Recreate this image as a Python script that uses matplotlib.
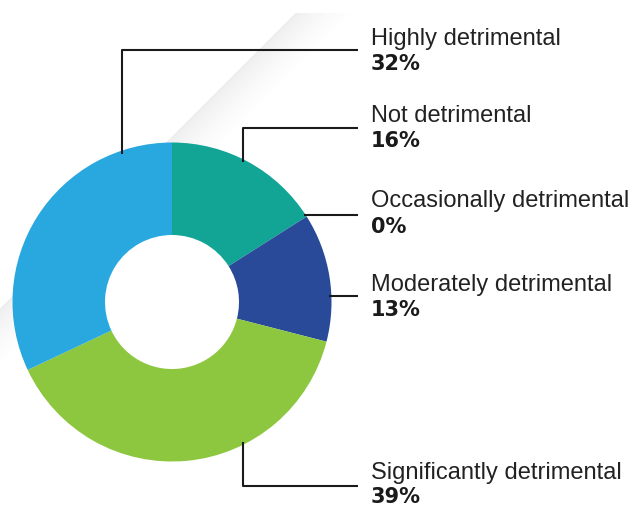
import numpy as np
import matplotlib.pyplot as plt

# data, clockwise from 12 o'clock
labels = ['Not detrimental', 'Occasionally detrimental', 'Moderately detrimental',
          'Significantly detrimental', 'Highly detrimental']
values = [16, 0, 13, 39, 32]
colors = ['#12A596', '#12A596', '#284A98', '#8DC63F', '#29A8E0']

W, H = 636, 509
fig = plt.figure(figsize=(6.36, 5.09), dpi=100)
ax = fig.add_axes([0, 0, 1, 1])

# faint diagonal sheen in the background
yy, xx = np.mgrid[0:H, 0:W]
d = (xx + yy - 307) / np.sqrt(2)
alpha = np.where((d > 0) & (d < 45), 0.12 * (1 - d / 45) ** 1.5, 0.0)
alpha[yy < 13] = 0
sheen = np.zeros((H, W, 4))
sheen[..., :3] = 0.45
sheen[..., 3] = alpha
ax.imshow(sheen, extent=(0, W, 0, H), origin='upper', zorder=0, interpolation='bilinear')

cx, cy, R = 172, H - 302, 159.5
ax.pie(values, colors=colors, startangle=90, counterclock=False,
       center=(cx, cy), radius=R, frame=True,
       wedgeprops=dict(width=R - 67, edgecolor='none', linewidth=0))
ax.set_xlim(0, W)
ax.set_ylim(0, H)
ax.set_aspect('equal')
ax.axis('off')

def on_circle_y(x, top=True):
    dy = np.sqrt(max(R ** 2 - (x - cx) ** 2, 0))
    return cy + dy if top else cy - dy

line_kw = dict(color='#1a1a1a', lw=1.5, zorder=3, solid_capstyle='butt')
xe = 358
# Highly detrimental: up from the left of the donut
ax.plot([122, 122, xe], [on_circle_y(122) - 3, H - 50, H - 50], **line_kw)
# Not detrimental
ax.plot([243, 243, xe], [on_circle_y(243) - 3, H - 128, H - 128], **line_kw)
# Occasionally detrimental: at teal / dark blue boundary
ang = np.deg2rad(90 - 360 * (values[0] + values[1]) / sum(values))
ax.plot([cx + R * np.cos(ang) - 3, xe], [H - 215, H - 215], **line_kw)
# Moderately detrimental
ax.plot([cx + np.sqrt(R ** 2 - 6 ** 2) - 2, xe], [H - 296, H - 296], **line_kw)
# Significantly detrimental
ax.plot([243, 243, xe], [on_circle_y(243, top=False) + 3, H - 486, H - 486], **line_kw)

# baselines of label / percentage
base_y = {'Highly detrimental': (45, 70), 'Not detrimental': (122, 147),
          'Occasionally detrimental': (207, 233), 'Moderately detrimental': (291, 316),
          'Significantly detrimental': (479, 503)}
for lab, v in zip(labels, values):
    yl, yp = base_y[lab]
    ax.text(371, H - yl, lab, fontsize=17, family='Liberation Sans', color='#222222',
            va='baseline', ha='left')
    ax.text(371, H - yp, f'{v}%', fontsize=15, family='DejaVu Sans', weight='bold',
            color='#1a1a1a', va='baseline', ha='left')

fig.savefig('out.png', dpi=100, facecolor='white')
